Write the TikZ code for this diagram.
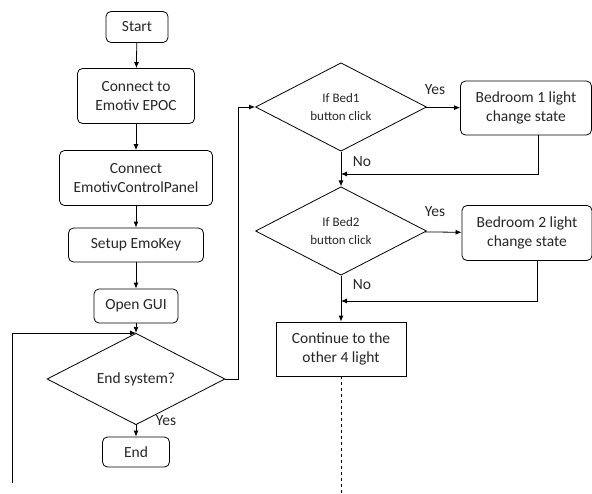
\documentclass[tikz,border=0pt]{standalone}
\usepackage{fontspec}
\setmainfont{Carlito}
\usetikzlibrary{shapes.geometric,arrows.meta}
\begin{document}
\begin{tikzpicture}[x=1pt,y=-1pt,
  every node/.style={font=\fontsize{15.5}{19.5}\selectfont, text=black!85},
  rbox/.style={draw, line width=0.8pt, rounded corners=5pt, align=center, inner sep=0pt},
  sbox/.style={draw, line width=0.8pt, align=center, inner sep=0pt},
  dec/.style={draw, line width=0.8pt, diamond, align=center, inner sep=0pt},
  smalltext/.style={font=\fontsize{13}{18}\selectfont},
  arr/.style={line width=0.8pt, -{Latex[length=6pt,width=5pt]}},
  ln/.style={line width=0.8pt},
  lbl/.style={inner sep=0pt}
]
\useasboundingbox (0,0) rectangle (592,493);
% left column
\node[rbox, minimum width=62, minimum height=31] (start) at (137,27) {Start};
\node[rbox, minimum width=117, minimum height=55] (c1) at (136,96) {Connect to\\Emotiv EPOC};
\node[rbox, minimum width=153, minimum height=55] (c2) at (136,178) {Connect\\EmotivControlPanel};
\node[rbox, minimum width=135, minimum height=34] (setup) at (136,245) {Setup EmoKey};
\node[rbox, minimum width=84, minimum height=34] (gui) at (136,306) {Open GUI};
\node[dec, minimum width=178, minimum height=62] (endsys) at (136,379) {End system?};
\node[rbox, minimum width=67, minimum height=30] (end) at (136,452) {End};
% right column
\node[dec, smalltext, minimum width=171, minimum height=79] (bed1) at (341,107) {If Bed1\\button click};
\node[rbox, minimum width=131, minimum height=54] (box1) at (526,108) {Bedroom 1 light\\change state};
\node[dec, smalltext, minimum width=171, minimum height=76] (bed2) at (341,231) {If Bed2\\button click};
\node[rbox, minimum width=130, minimum height=55] (box2) at (527,233) {Bedroom 2 light\\change state};
\node[sbox, minimum width=130, minimum height=54] (cont) at (341,349) {Continue to the\\other 4 light};
% coordinates
\coordinate (loopbot) at (12,483);
\coordinate (loopcorner) at (12,333);
\coordinate (loopend) at (136,333);
\coordinate (rcorner) at (238,379);
\coordinate (j1) at (341,174);
\coordinate (j2) at (341,301);
\coordinate (dashend) at (341,493);
% connectors
\draw[arr] (start) -- (c1);
\draw[arr] (c1) -- (c2);
\draw[arr] (c2) -- (setup);
\draw[arr] (setup) -- (gui);
\draw[arr] (gui) -- (endsys);
\draw[arr] (endsys) -- (end);
\draw[arr] (loopbot) -- (loopcorner) -- (loopend);
\draw[arr] (endsys.east) -- (rcorner) |- (bed1.west);
\draw[arr] (bed1) -- (box1);
\draw[arr] (bed1) -- (bed2);
\draw[arr] (box1.south -| 538,0) |- (j1);
\draw[arr] (bed2) -- (box2);
\draw[arr] (bed2) -- (cont);
\draw[arr] (box2.south -| 537,0) |- (j2);
\draw[ln, dashed] (cont) -- (dashend);
% labels
\node[lbl] at (166,421) {Yes};
\node[lbl] at (435,90) {Yes};
\node[lbl] at (435,212) {Yes};
\node[lbl] at (362,162) {No};
\node[lbl] at (362,285) {No};
\end{tikzpicture}
\end{document}
